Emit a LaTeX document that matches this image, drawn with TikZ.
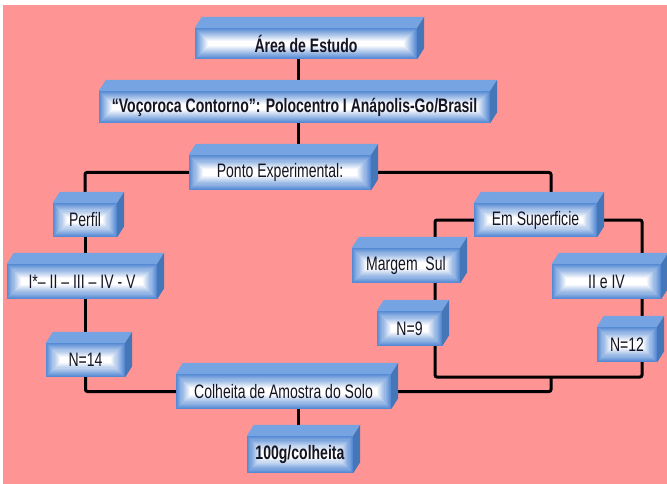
\documentclass[tikz,border=0pt]{standalone}
\usepackage{fontspec}
\setmainfont{Liberation Sans}[FakeStretch=0.72]
\usetikzlibrary{calc}

\pgfdeclarelayer{background}
\pgfsetlayers{background,main}

\definecolor{pinkbg}{RGB}{255,148,148}
\definecolor{frontblue}{RGB}{86,138,212}
\definecolor{topblue}{RGB}{118,164,226}
\definecolor{sideblue}{RGB}{68,118,184}
\definecolor{boxtext}{RGB}{20,20,35}

\tikzset{
    cube/.style={rectangle, inner sep=0pt, text=boxtext,
        font=\fontsize{19.5}{22}\selectfont,
        path picture={
            \foreach \k in {0,...,15}{
                \pgfmathsetmacro\tone{max(0,100-\k*100/13)}
                \fill[frontblue!\tone!white]
                    let \p1=(path picture bounding box.south west),
                        \p2=(path picture bounding box.north east),
                        \n1={(\y2-\y1)/2*\k/16}
                    in (\x1+\n1*1pt,\y1+\n1*1pt) rectangle (\x2-\n1*1pt,\y2-\n1*1pt);
            }
        }},
    link/.style={draw=black, line width=3pt, rounded corners=2pt}
}

\begin{document}
\begin{tikzpicture}[x=1pt, y=-1pt]

    \useasboundingbox (0,0) rectangle (667,484);
    \begin{pgfonlayer}{background}
        \fill[white] (0,0) rectangle (667,484);
        \fill[pinkbg] (3,5) rectangle (667,484);
    \end{pgfonlayer}

    % --- top of the chart ---
    \node[cube, minimum width=222pt, minimum height=31pt] (area) at (306,43.5) {\textbf{Área de Estudo}};
    \node[cube, minimum width=391pt, minimum height=32pt] (voco) at (294.5,107) {\textbf{“Voçoroca Contorno”: Polocentro I Anápolis-Go/Brasil}};
    \node[cube, minimum width=182pt, minimum height=35pt] (ponto) at (280,172.5) {Ponto Experimental:};

    % --- left branch: profile ---
    \node[cube, minimum width=64pt, minimum height=34pt] (perfil) at (85,220) {Perfil};
    \node[cube, minimum width=150pt, minimum height=35pt] (roman) at (82,281.5) {I*– II – III – IV - V};
    \node[cube, minimum width=79pt, minimum height=34pt] (n14) at (85.5,360) {N=14};

    % --- right branch: surface ---
    \node[cube, minimum width=123pt, minimum height=34pt] (superf) at (535.5,220) {Em Superficie};
    \node[cube, minimum width=108pt, minimum height=35pt] (margem) at (406,265.5) {Margem\ \ Sul};
    \node[cube, minimum width=109pt, minimum height=35pt] (iiiv) at (606.5,281.5) {II e IV};
    \node[cube, minimum width=65pt, minimum height=35pt] (n9) at (409.5,328.5) {N=9};
    \node[cube, minimum width=60pt, minimum height=35pt] (n12) at (627,344.5) {N=12};

    % --- bottom ---
    \node[cube, minimum width=215pt, minimum height=35pt] (colheita) at (283.5,391.5) {Colheita de Amostra do Solo};
    \node[cube, minimum width=106pt, minimum height=37pt] (g100) at (300,454.5) {\textbf{100g/colheita}};

    % top and side faces
    \foreach \b in {area,voco,ponto,perfil,roman,n14,superf,margem,iiiv,n9,n12,colheita,g100}{
        \fill[topblue] (\b.north west) -- ++(7,-11) -- ($(\b.north east)+(7,-11)$) -- (\b.north east) -- cycle;
        \fill[sideblue] (\b.north east) -- ++(7,-11) -- ($(\b.south east)+(7,-11)$) -- (\b.south east) -- cycle;
    }

    % connectors
    \coordinate (spine) at (298,0);
    \coordinate (lx) at (435,0);
    \coordinate (rx) at (642,0);
    \coordinate (jn) at (551,377);
    \begin{pgfonlayer}{background}
        \draw[link] (spine |- area.south) -- (spine |- ponto.north);
        \draw[link] (ponto.west) -| (perfil.north);
        \draw[link] (ponto.east) -| (jn |- superf.north);
        \draw[link] (perfil.south) -- (perfil.south |- n14.north);
        \draw[link] (n14.south) |- (colheita.west);
        \draw[link] (superf.west) -| (lx |- jn) -- (rx |- jn) |- (superf.east);
        \draw[link] (colheita.east) -| (jn);
        \draw[link] (spine |- colheita.south) -- (spine |- g100.north);
    \end{pgfonlayer}

\end{tikzpicture}
\end{document}
